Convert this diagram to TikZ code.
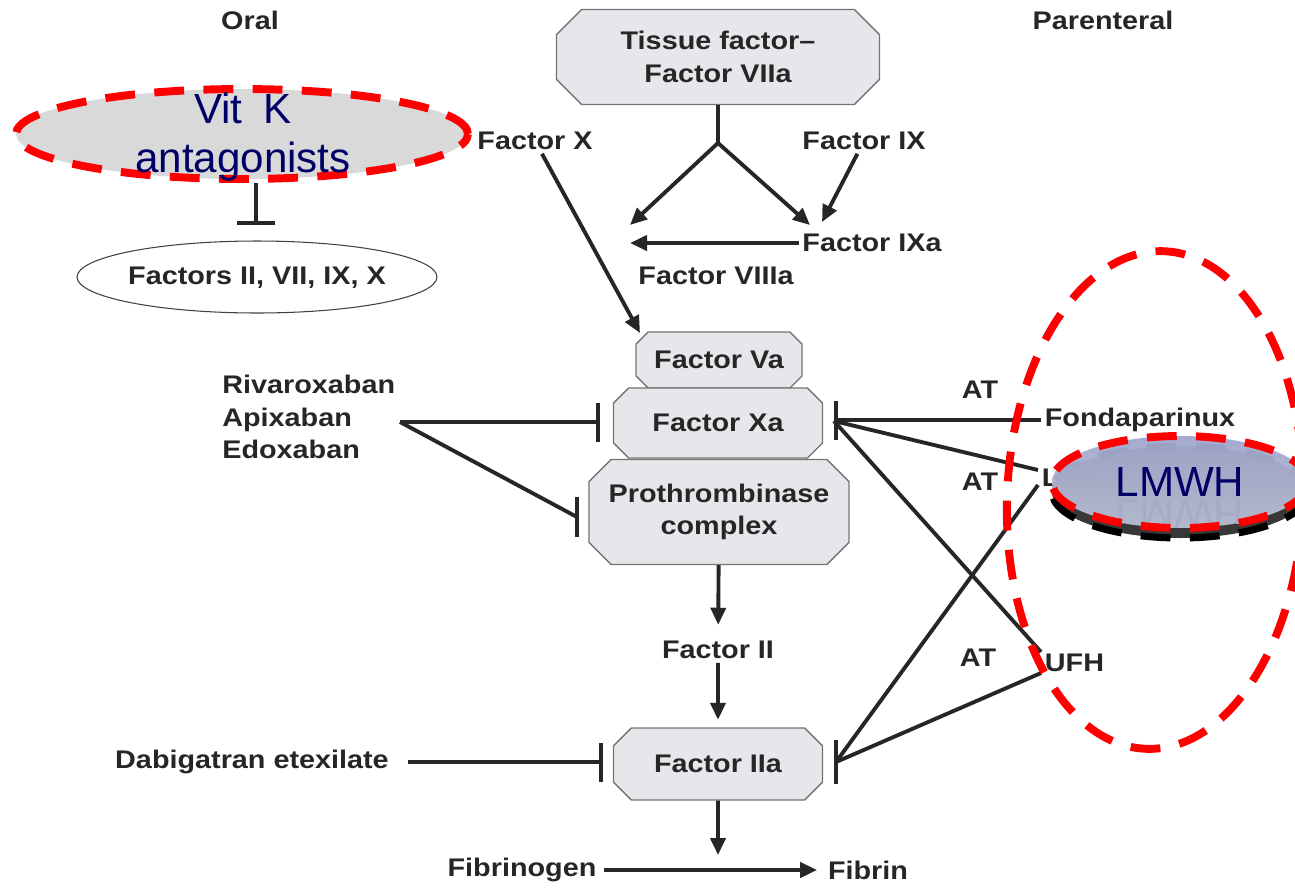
\documentclass[tikz,border=0pt]{standalone}
\usepackage{fontspec}
\usepackage{graphicx}
\setmainfont{Liberation Sans}
\newfontfamily\lbl{Liberation Sans}[FakeStretch=1.13]
\usetikzlibrary{shapes.misc,shapes.geometric,arrows.meta}
\definecolor{boxgray}{RGB}{230,231,235}
\definecolor{navy}{RGB}{0,0,102}
\begin{document}
\begin{tikzpicture}[x=0.02cm,y=-0.02cm,
    txt/.style={font=\lbl\bfseries\fontsize{14.5}{18.4}\selectfont,text=black!85,inner sep=2pt},
    blk/.style={chamfered rectangle,chamfered rectangle sep=#1,
        draw=black!55,fill=boxgray,line width=0.8pt,txt,inner sep=0pt,align=center},
    blk/.default=0.15cm,
    ln/.style={line width=2.2pt,black!85},
    arr/.style={ln,-{Triangle[length=0.34cm,width=0.3cm]}},
    inh/.style={ln,-{Bar[width=0.78cm,line width=2.4pt]}},
    bar/.style={line width=2.4pt,black!85},
    big/.style={font=\fontsize{24}{28}\selectfont,text=navy,inner sep=0pt},
    reddash/.style={draw=red,dash pattern=on 17pt off 11pt,line width=4.5pt}]
    \useasboundingbox (0,0) rectangle (1295,887);

    % заголовки
    \node[txt] (oral) at (250,20) {Oral};
    \node[txt] (par) at (1103,20) {Parenteral};

    % блоки
    \node[blk=0.25cm,minimum width=6.46cm,minimum height=1.9cm] (tf) at (718,57) {Tissue factor–\\Factor VIIa};
    \node[blk=0.12cm,minimum width=3.32cm,minimum height=1.12cm] (va) at (719,360) {Factor Va};
    \node[blk,minimum width=4.18cm,minimum height=1.4cm] (xa) at (718,423) {Factor Xa};
    \node[blk=0.22cm,minimum width=5.2cm,minimum height=2.1cm] (pro) at (719,512) {Prothrombinase\\complex};
    \node[blk=0.18cm,minimum width=4.18cm,minimum height=1.44cm] (iia) at (718,764) {Factor IIa};

    % подписи
    \node[txt] (fx) at (535,141) {Factor X};
    \node[txt] (fix) at (864,141) {Factor IX};
    \node[txt] (fixa) at (872,243) {Factor IXa};
    \node[txt] (fviiia) at (716,276) {Factor VIIIa};
    \node[txt,anchor=west,align=left,inner sep=0pt] (xab) at (222,417) {Rivaroxaban\\Apixaban\\Edoxaban};
    \node[txt] (fii) at (718,650) {Factor II};
    \node[txt] (dab) at (252,762) {Dabigatran etexilate};
    \node[txt] (fbg) at (522,870) {Fibrinogen};
    \node[txt] (fbn) at (868,870) {Fibrin};
    \node[txt] (at1) at (980,390) {AT};
    \node[txt] (at2) at (980,482) {AT};
    \node[txt] (at3) at (978,658) {AT};
    \node[txt,anchor=west] (fon) at (1041,420) {Fondaparinux};
    \node[txt,anchor=west] (ufh) at (1041,663) {UFH};

    % витамин K
    \node[ellipse,fill=black!15,reddash,minimum width=9.04cm,minimum height=1.8cm] (vitk) at (242,134) {};
    \node[big,align=center] (vitkt) at (243,137) {Vit\enspace K\\antagonists};
    \node[ellipse,draw=black!75,line width=0.6pt,minimum width=7.2cm,minimum height=1.44cm] (facE) at (257,277) {};
    \node[txt] (fac) at (257,278) {Factors II, VII, IX, X};

    % точки
    \coordinate (br) at (718,143);
    \coordinate (viiiL) at (630,225);
    \coordinate (ixaL) at (810,225);
    \coordinate (ixaT) at (822,222);
    \coordinate (viii) at (630,243);
    \coordinate (vaT) at (640,333);
    \coordinate (fib) at (718,855);
    \coordinate (facT) at (256,225);
    \coordinate (xabR) at (400,422);
    \coordinate (xaL) at (600,422);
    \coordinate (proL) at (577,517);
    \coordinate (iiaL) at (603,764);
    \coordinate (xaR) at (834,421);
    \coordinate (iiaR) at (836,762);

    % стрелки
    \draw[ln] (tf) -- (br);
    \draw[arr] (br) -- (viiiL);
    \draw[arr] (br) -- (ixaL);
    \draw[arr] (fix) -- (ixaT);
    \draw[arr] (fixa) -- (viii);
    \draw[arr] (fx) -- (vaT);
    \draw[arr,shorten >=0.25cm] (pro) -- (fii);
    \draw[arr,shorten >=0.15cm] (fii) -- (iia);
    \draw[arr] (iia) -- (fib);
    \draw[arr,shorten <=2pt,shorten >=4pt] (fbg) -- (fbn);

    % ингибиторы
    \draw[inh,line width=2.2pt] (vitk.south -| facT) -- (facT);
    \draw[inh,shorten <=0.3cm] (dab.east) -- (dab.east -| iiaL);
    \draw[inh] (xabR) -- (xaL);
    \draw[ln] (xabR) -- (proL);
    \draw[bar] ([yshift=0.4cm]proL) -- ([yshift=-0.4cm]proL);
    \draw[inh] (fon.west) -- (fon.west -| xaR);
    \draw[ln] (ufh.west) ++(0,-11) -- (xaR);
    \draw[ln] (ufh.west) ++(0,10) -- (iiaR);
    \draw[bar] ([yshift=0.44cm]iiaR) -- ([yshift=-0.44cm]iiaR);

    % LMWH
    \node[ellipse,fill=black!78,draw=black,dash pattern=on 17pt off 11pt,line width=4pt,minimum width=5.12cm,minimum height=1.84cm] (lmwhS) at (1180,492) {};
    \node[txt,anchor=west] (lmwh) at (1038,478) {LMWH};
    \draw[ln] (lmwh.west) ++(0,-8) -- (xaR);
    \draw[ln] (lmwh.west) ++(0,7) -- (iiaR);
    \node[ellipse,top color={rgb,255:red,160;green,167;blue,205},bottom color={rgb,255:red,186;green,192;blue,210},opacity=0.95,minimum width=5.12cm,minimum height=1.84cm] (lmwhE) at (1180,482) {};
    \begin{scope}
        \clip (1180,482) ellipse [x radius=2.56cm,y radius=0.92cm];
        \node[font=\fontsize{24}{28}\selectfont,text={rgb,255:red,166;green,171;blue,200},inner sep=0pt] (lmwhR) at (1180,514) {\scalebox{1}[-1]{LMWH}};
    \end{scope}
    \draw[reddash] (1180,482) ellipse [x radius=2.56cm,y radius=0.92cm];
    \node[big] (lmwhT) at (1180,482) {LMWH};

    % парентеральные
    \draw[reddash,rotate around={-2:(1155,500)}] (1155,500) ellipse [x radius=2.96cm,y radius=4.98cm];
\end{tikzpicture}
\end{document}
